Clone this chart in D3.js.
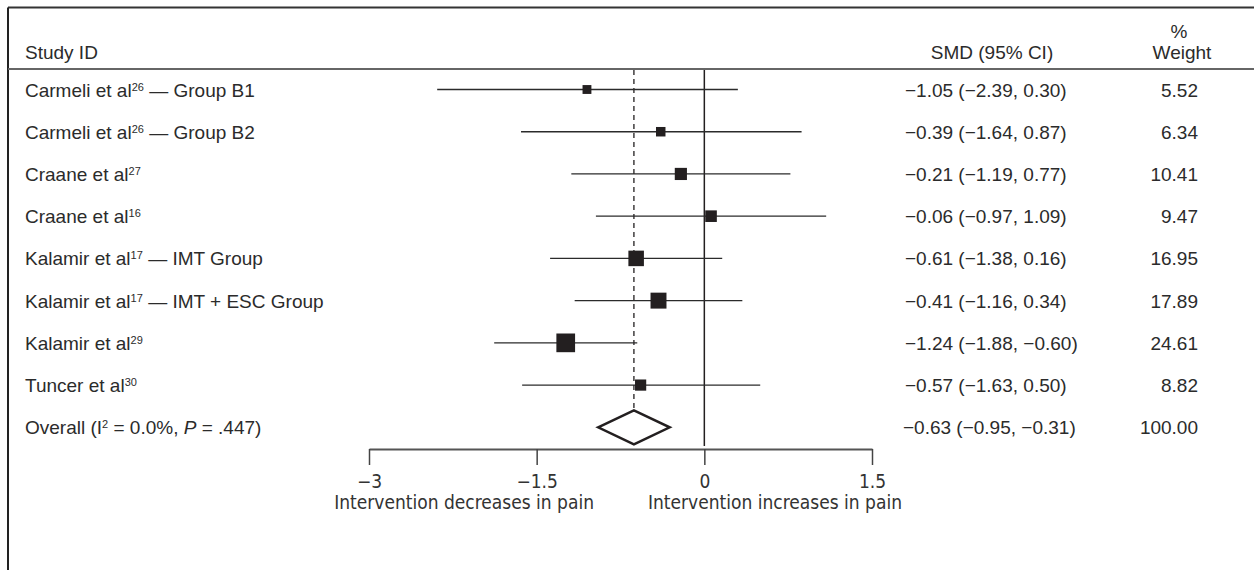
<!DOCTYPE html>
<html>
<head>
<meta charset="utf-8">
<script src="https://cdn.jsdelivr.net/npm/d3@7"></script>
<style>
  body { margin: 0; background: #fff; }
  svg { display: block; font-family: "Liberation Sans", Arial, Helvetica, sans-serif; }
  .lbl { font-size: 19px; fill: #2b2b2b; }
  .axis text { font-family: "Liberation Sans Narrow", "DejaVu Sans Condensed", sans-serif; font-size: 19px; fill: #333; }
  .axis-title { font-family: "Liberation Sans Narrow", "DejaVu Sans Condensed", sans-serif; font-size: 19px; fill: #333; }
</style>
</head>
<body>
<svg id="chart" width="1254" height="570"></svg>
<script>
// study rows, as printed
const authors = ['Carmeli et al', 'Carmeli et al', 'Craane et al', 'Craane et al',
  'Kalamir et al', 'Kalamir et al', 'Kalamir et al', 'Tuncer et al']
const refs = ['26', '26', '27', '16', '17', '17', '29', '30']
const groups = [' — Group B1', ' — Group B2', '', '', ' — IMT Group', ' — IMT + ESC Group', '', '']

// point estimates and CI as plotted
const smd = [-1.05, -0.39, -0.21, 0.06, -0.61, -0.41, -1.24, -0.57]
const lower = [-2.39, -1.64, -1.19, -0.97, -1.38, -1.16, -1.88, -1.63]
const upper = [0.30, 0.87, 0.77, 1.09, 0.16, 0.34, -0.60, 0.50]
const weights = [5.52, 6.34, 10.41, 9.47, 16.95, 17.89, 24.61, 8.82]
const ciText = ['−1.05 (−2.39, 0.30)', '−0.39 (−1.64, 0.87)', '−0.21 (−1.19, 0.77)',
  '−0.06 (−0.97, 1.09)', '−0.61 (−1.38, 0.16)', '−0.41 (−1.16, 0.34)',
  '−1.24 (−1.88, −0.60)', '−0.57 (−1.63, 0.50)']

// pooled
const overall = { est: -0.63, lo: -0.95, hi: -0.31, weight: 100.00, text: '−0.63 (−0.95, −0.31)' }

const tickValues = [-3, -1.5, 0, 1.5]
const axisTitles = ['Intervention decreases in pain', 'Intervention increases in pain']

const svg = d3.select('#chart')
const ink = '#231f20'

const rows = authors.map((a, i) => ({
  id: 'r' + i, author: a, ref: refs[i], group: groups[i],
  est: smd[i], lo: lower[i], hi: upper[i], w: weights[i], text: ciText[i]
}))

const x = d3.scaleLinear().domain([-3, 1.5]).range([369, 872])
const y = d3.scalePoint()
  .domain(rows.map((d) => d.id).concat(['overall']))
  .range([89.5, 427.3])
const side = d3.scaleSqrt().domain([0, 24.61]).range([0, 18.7])

const axisY = 449
const headerLine = 69

// frame
svg.append('line').attr('x1', 8).attr('x2', 1254).attr('y1', 7.5).attr('y2', 7.5)
  .attr('stroke', '#333').attr('stroke-width', 2)
svg.append('line').attr('x1', 8).attr('x2', 8).attr('y1', 7.5).attr('y2', 570)
  .attr('stroke', '#222').attr('stroke-width', 2)
svg.append('line').attr('x1', 8).attr('x2', 1254).attr('y1', headerLine).attr('y2', headerLine)
  .attr('stroke', '#666').attr('stroke-width', 2)

// headers
svg.append('text').attr('class', 'lbl').attr('x', 25).attr('y', 59).text('Study ID')
svg.append('text').attr('class', 'lbl').attr('x', 992).attr('y', 59)
  .attr('text-anchor', 'middle').text('SMD (95% CI)')
svg.append('text').attr('class', 'lbl').attr('x', 1179).attr('y', 38)
  .attr('text-anchor', 'middle').text('%')
svg.append('text').attr('class', 'lbl').attr('x', 1182).attr('y', 59)
  .attr('text-anchor', 'middle').text('Weight')

// reference lines
svg.append('line').attr('x1', x(0)).attr('x2', x(0))
  .attr('y1', headerLine + 1).attr('y2', axisY - 3)
  .attr('stroke', ink).attr('stroke-width', 1.5)
svg.append('line').attr('x1', x(overall.est)).attr('x2', x(overall.est))
  .attr('y1', headerLine + 1).attr('y2', y('overall') + 17)
  .attr('stroke', ink).attr('stroke-width', 1.3).attr('stroke-dasharray', '5,4')

// study rows
const row = svg.selectAll('g.row').data(rows).enter()
  .append('g').attr('class', 'row')
  .attr('transform', (d) => 'translate(0,' + y(d.id) + ')')

row.append('line')
  .attr('x1', (d) => x(d.lo)).attr('x2', (d) => x(d.hi))
  .attr('stroke', '#2b2b2b').attr('stroke-width', 1.3)

row.append('rect')
  .attr('x', (d) => x(d.est) - side(d.w) / 2)
  .attr('y', (d) => -side(d.w) / 2)
  .attr('width', (d) => side(d.w))
  .attr('height', (d) => side(d.w))
  .attr('fill', ink)

const name = row.append('text').attr('class', 'lbl').attr('x', 25).attr('y', 7)
name.append('tspan').text((d) => d.author)
name.append('tspan').attr('dy', -6).attr('font-size', 11).text((d) => d.ref)
name.append('tspan').attr('dy', 6).text((d) => d.group)

row.append('text').attr('class', 'lbl').attr('x', 905).attr('y', 7).text((d) => d.text)
row.append('text').attr('class', 'lbl').attr('x', 1198).attr('y', 7)
  .attr('text-anchor', 'end').text((d) => d.w.toFixed(2))

// overall row
const oy = y('overall')
const ov = svg.append('g').attr('transform', 'translate(0,' + oy + ')')
ov.append('path')
  .attr('d', d3.line()([[x(overall.lo), 0], [x(overall.est), -17], [x(overall.hi), 0], [x(overall.est), 17]]) + 'Z')
  .attr('fill', '#fff').attr('stroke', ink).attr('stroke-width', 2.5)
  .attr('stroke-linejoin', 'miter')

const otxt = ov.append('text').attr('class', 'lbl').attr('x', 25).attr('y', 7)
otxt.append('tspan').text('Overall (I')
otxt.append('tspan').attr('dy', -6).attr('font-size', 11).text('2')
otxt.append('tspan').attr('dy', 6).text(' = 0.0%, ')
otxt.append('tspan').attr('font-style', 'italic').text('P')
otxt.append('tspan').text(' = .447)')
ov.append('text').attr('class', 'lbl').attr('x', 903).attr('y', 7).text(overall.text)
ov.append('text').attr('class', 'lbl').attr('x', 1198).attr('y', 7)
  .attr('text-anchor', 'end').text(overall.weight.toFixed(2))

// axis
const fmt = (v) => (v < 0 ? '−' : '') + Math.abs(v)
const axis = svg.append('g').attr('class', 'axis')
  .attr('transform', 'translate(0,' + axisY + ')')
  .call(d3.axisBottom(x).tickValues(tickValues).tickFormat(fmt).tickSize(16).tickSizeOuter(0))
axis.select('.domain').attr('stroke', '#555').attr('stroke-width', 2)
axis.selectAll('.tick line').attr('stroke', '#444').attr('stroke-width', 1.5)
axis.selectAll('.tick text').attr('dy', '1.05em')

svg.append('text').attr('class', 'axis-title').attr('x', 594).attr('y', 509)
  .attr('text-anchor', 'end').text(axisTitles[0])
svg.append('text').attr('class', 'axis-title').attr('x', 648).attr('y', 509)
  .attr('text-anchor', 'start').text(axisTitles[1])
</script>
</body>
</html>
